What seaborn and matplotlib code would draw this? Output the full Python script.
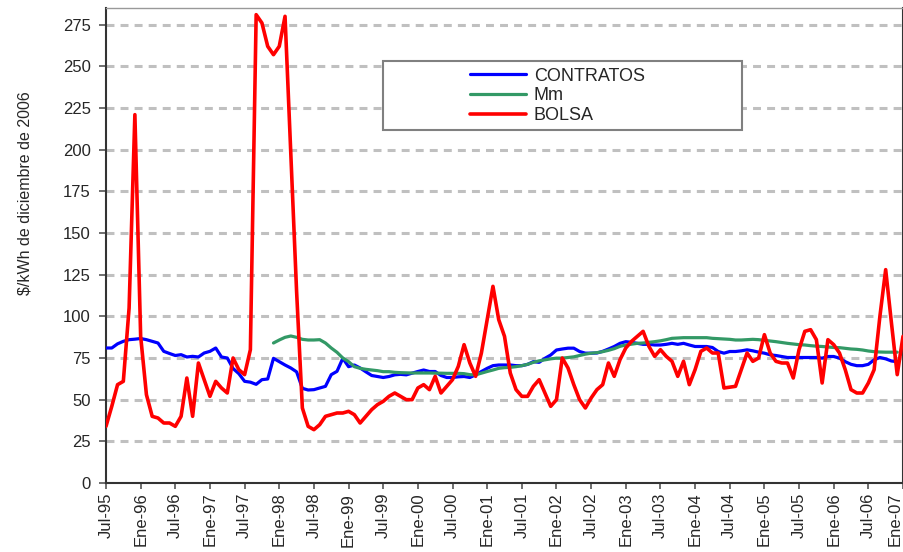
import matplotlib
matplotlib.use("Agg")
import matplotlib.pyplot as plt
import matplotlib.patches as mpatches
import matplotlib.transforms as mtransforms
import numpy as np
import pandas as pd
import seaborn as sns

# Monthly series, Jul-95 .. Ene-07 (index 0 = Jul-95)
bolsa = [34, 46, 59, 61, 105, 221, 88, 53, 40, 39, 36, 36, 34, 40, 63, 40, 72, 62, 52, 61,
         57, 54, 75, 68, 65, 80, 281, 276, 262, 257, 262, 280, 198, 115, 45, 34, 32, 35, 40, 41,
         42, 42, 43, 41, 36, 40, 44, 47, 49, 52, 54, 52, 50, 50, 57, 59, 56, 64, 54, 58,
         62, 70, 83, 72, 64, 78, 98, 118, 98, 88, 66, 56, 52, 52, 58, 62, 54, 46, 50, 75,
         69, 59, 50, 45, 51, 56, 59, 72, 64, 74, 81, 85, 88, 91, 82, 76, 80, 76, 73, 64,
         73, 59, 68, 79, 81, 78, 78, 57, 57.5, 58, 68, 78, 73, 75, 89, 78, 73, 72, 72, 63,
         80, 91, 92, 86, 60, 86, 83, 78, 68, 56, 54, 54, 60, 68, 100, 128, 96, 65, 88]

contratos = [81, 81, 83.5, 85, 86, 86.3, 86.7, 86, 85, 84, 79, 77.7, 76.5, 77, 75.6, 76, 75.6, 78, 79, 81,
             75.6, 75, 68.7, 65.6, 61, 60.5, 59.2, 62, 62.4, 74.8, 72.8, 70.8, 69, 66.7, 56.8, 55.8, 56, 57, 58, 65,
             67, 74.8, 69.8, 70.8, 69, 66.7, 64.5, 63.9, 63.3, 63.9, 64.9, 65.2, 64.9, 65.9, 66.9, 67.8, 66.9, 66.9, 64.5, 63.3,
             63.3, 63.7, 63.9, 63.3, 64.9, 66.9, 68.8, 70.4, 70.8, 70.8, 70.8, 70.4, 70.4, 71.2, 72.8, 72.4, 74.8, 76.8, 79.8, 80.4,
             80.9, 80.9, 78.9, 77.9, 77.9, 78, 79, 80.4, 81.9, 83.8, 84.8, 84.4, 83.8, 83.2, 83.2, 82.8, 82.8, 83.2, 83.8, 83.2,
             83.8, 82.8, 81.9, 81.9, 81.9, 81.3, 78.9, 77.9, 78.9, 78.9, 79.3, 79.9, 79.3, 78.5, 77.9, 76.9, 76.5, 75.9, 75.3, 75.3,
             75.3, 75.3, 75.3, 75.3, 74.9, 75.9, 75.9, 74.9, 72.8, 71.2, 70.4, 70.4, 71.2, 73.9, 75.3, 74.5, 73.2, 72.8]

# Mm starts at index 29 (Dic-97)
mm_start = 29
mm = [84, 85.8, 87.4, 88.2, 87.4, 86.2, 85.8, 85.8, 86, 84, 81, 78.4, 75, 72.8, 69.8, 68.8, 68.2, 67.8, 67.4, 66.8,
      66.8, 66.4, 66.2, 66.1, 66, 66, 66, 66, 65.9, 65.9, 65.8, 65.8, 65.8, 65.6, 65, 64.9, 65.9, 66.9, 67.8, 68.8,
      69.2, 69.4, 69.8, 70.4, 71.2, 72.4, 73.3, 73.9, 74.5, 74.9, 74.9, 75.3, 75.7, 76.5, 77.3, 77.9, 78.2, 78.8, 79.6, 80.6,
      82, 82.8, 83.3, 83.8, 84, 84.4, 84.8, 85.3, 86, 86.8, 87, 87.2, 87.2, 87.2, 87.2, 87.2, 86.8, 86.6, 86.4, 86.2,
      85.8, 85.8, 86, 86.2, 86, 85.6, 85.2, 84.8, 84.3, 83.8, 83.4, 83, 82.8, 82.4, 82.1, 81.9, 81.6, 81.3, 81.2, 80.8,
      80.4, 80.2, 79.8, 79.2, 78.8, 78.6, 78.5, 78.5, 78.5]

tick_labels = ['Jul-95', 'Ene-96', 'Jul-96', 'Ene-97', 'Jul-97', 'Ene-98', 'Jul-98', 'Ene-99',
               'Jul-99', 'Ene-00', 'Jul-00', 'Ene-01', 'Jul-01', 'Ene-02', 'Jul-02', 'Ene-03',
               'Jul-03', 'Ene-04', 'Jul-04', 'Ene-05', 'Jul-05', 'Ene-06', 'Jul-06', 'Ene-07']

# Build table
n = len(bolsa)
df = pd.DataFrame({'mes': np.arange(n), 'BOLSA': bolsa})
df['CONTRATOS'] = pd.Series(contratos, index=range(len(contratos)))
df['Mm'] = pd.Series(mm, index=range(mm_start, mm_start + len(mm)))

sns.set_style('white')
plt.rcParams['font.family'] = ['Liberation Sans', 'DejaVu Sans']

fig = plt.figure(figsize=(9.04, 5.52), dpi=100)
ax = fig.add_axes([106 / 904, 1 - 483 / 552, 797 / 904, 475 / 552])

sns.lineplot(data=df, x='mes', y='CONTRATOS', ax=ax, color='#0000FF', lw=2.3, label='CONTRATOS', zorder=3)
sns.lineplot(data=df, x='mes', y='Mm', ax=ax, color='#339966', lw=2.3, label='Mm', zorder=3)
sns.lineplot(data=df, x='mes', y='BOLSA', ax=ax, color='#FF0000', lw=2.6, label='BOLSA', zorder=3)

ax.set_xlim(0, 138)
ax.set_ylim(0, 285)
ax.set_xticks(range(0, 139, 6))
ax.set_xticklabels(tick_labels, rotation=90, fontsize=12)
ax.set_yticks(range(0, 276, 25))
ax.tick_params(axis='y', labelsize=12, length=5, width=1.2, color='#555555', pad=6, direction='out', left=True)
ax.tick_params(axis='x', length=4, width=1.2, color='#555555', pad=3, direction='out', bottom=True)
ax.set_xlabel('')
ax.set_ylabel('$/kWh de diciembre de 2006', fontsize=11.5)
ax.yaxis.set_label_coords(-0.092, 0.61)

# the last label sits on the right edge: nudge it inside the figure
last = ax.get_xticklabels()[-1]
last.set_transform(last.get_transform() + mtransforms.ScaledTranslation(-8 / 100, 0, fig.dpi_scale_trans))

ax.set_axisbelow(True)
ax.yaxis.grid(True, color='#C0C0C0', lw=2.2, linestyle=(0, (2.6, 2.0)))
ax.xaxis.grid(False)

for side in ['left', 'bottom']:
    ax.spines[side].set_color('#333333')
    ax.spines[side].set_linewidth(1.5)
ax.spines['top'].set_color('#999999')
ax.spines['top'].set_linewidth(1.0)
ax.spines['right'].set_color('#333333')
ax.spines['right'].set_linewidth(1.5)

# legend box
box = mpatches.Rectangle(((383 - 106) / 797, (483 - 130) / 475), 359 / 797, 69 / 475,
                         transform=ax.transAxes, facecolor='white', edgecolor='#808080',
                         lw=1.5, zorder=4)
ax.add_patch(box)
leg = ax.legend(loc='center', bbox_to_anchor=(0.566, 0.815), frameon=False, fontsize=13,
                handlelength=3.15, handletextpad=0.4, labelspacing=0.15, borderpad=0)
leg.set_zorder(5)

fig.savefig('out.png', dpi=100)
